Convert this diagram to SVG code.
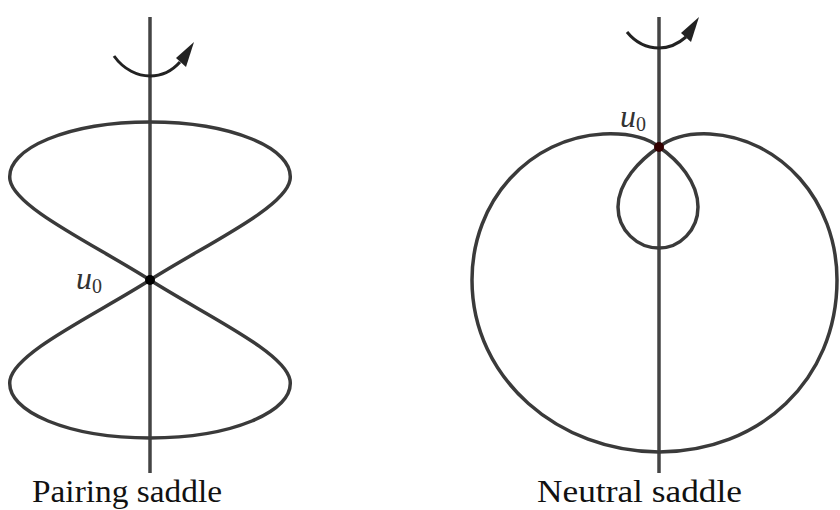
<svg xmlns="http://www.w3.org/2000/svg" width="840" height="510" viewBox="0 0 840 510">
<defs>
<style>
.ax{stroke:#444;stroke-width:3.5;fill:none}
.cv{stroke:#3a3a3a;stroke-width:3.5;fill:none}
.rot{stroke:#222;stroke-width:3;fill:none}
.lbl{font-size:31px;fill:#111}
.math{font-style:italic;font-size:32px;fill:#333}
.sub{font-style:normal;font-size:20px;fill:#333}
</style>
</defs>
<g id="pairing">
<line class="ax" x1="150" y1="17" x2="150" y2="473"/>
<path class="cv" d="M150,280 C95,245 15,208 10,180 C5,148 70,122 150,122 C230,122 295,148 290,180 C285,208 205,245 150,280 Z"/>
<path class="cv" d="M150,280 C95,315 15,352 10,380 C5,412 70,438 150,438 C230,438 295,412 290,380 C285,352 205,315 150,280 Z"/>
<path class="rot" d="M114,56 C124,70 138,76 150,76 C162,76 172,71 180,62"/>
<polygon points="194,42 176,58 186,67" fill="#222"/>
<circle cx="150" cy="280" r="5" fill="#000"/>
<text class="math" font-family="Liberation Serif, serif" x="76" y="289">u<tspan class="sub" dy="4">0</tspan></text>
<text class="lbl" font-family="Liberation Serif, serif" x="32" y="502" textLength="190" lengthAdjust="spacingAndGlyphs">Pairing saddle</text>
</g>
<g id="neutral">
<line class="ax" x1="659" y1="17" x2="659" y2="473"/>
<path class="cv" d="M659,147 C645,136 625,133 603,134 C530,138 472,200 472,280 C472,380 560,452 659,452 C760,452 837,380 837,280 C837,200 780,138 710,134 C690,133 672,137 659,147 Z"/>
<path class="cv" d="M659,147 C640,160 618,182 618,207 C618,230 637,248 659,248 C680,248 698,230 698,207 C698,182 678,160 659,147 Z"/>
<path class="rot" d="M627,32 C636,43 648,48 659,48 C670,48 678,44 686,37"/>
<polygon points="699,17 681,33 691,42" fill="#222"/>
<circle cx="659" cy="147" r="5" fill="#300"/>
<text class="math" font-family="Liberation Serif, serif" x="620" y="127">u<tspan class="sub" dy="4">0</tspan></text>
<text class="lbl" font-family="Liberation Serif, serif" x="537" y="502" textLength="205" lengthAdjust="spacingAndGlyphs">Neutral saddle</text>
</g>
</svg>
